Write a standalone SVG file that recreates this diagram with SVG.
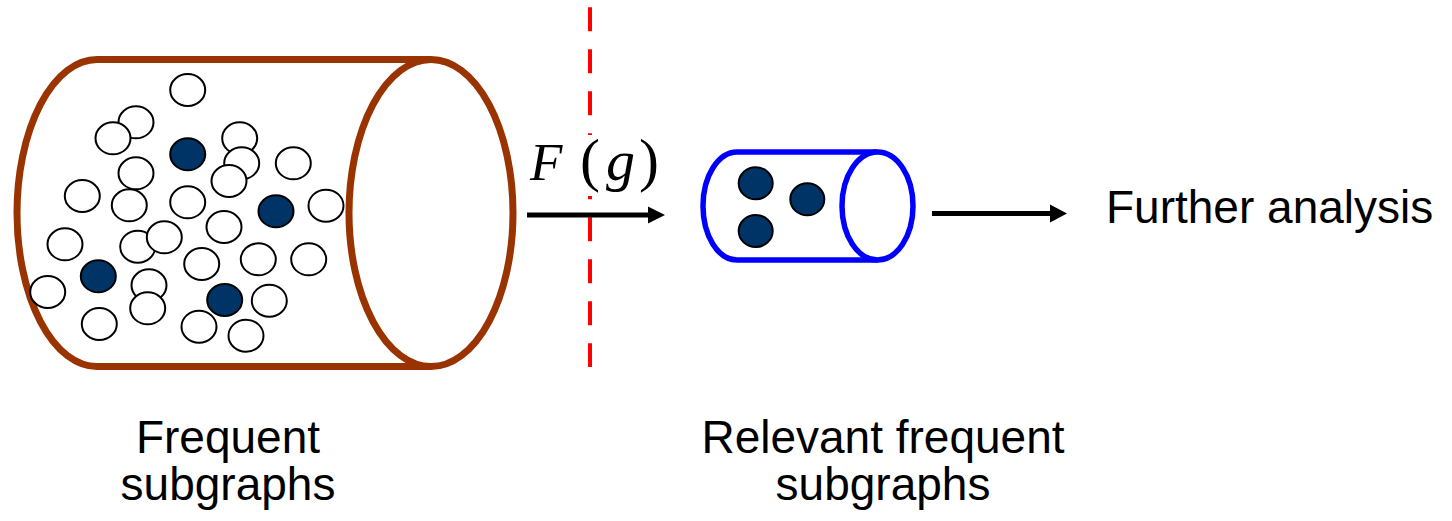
<svg xmlns="http://www.w3.org/2000/svg" width="1452" height="521" viewBox="0 0 1452 521">
<defs>
<style>
.lbl{font-family:"Liberation Sans",Arial,sans-serif;font-size:46px;fill:#000}
.math{font-family:"Liberation Serif","Times New Roman",serif;font-size:53px;fill:#000}
.o{fill:#fff;stroke:#000;stroke-width:2}
.f{fill:#003366;stroke:#000;stroke-width:2}
.arr{stroke:#000;stroke-width:5;fill:none}
</style>
</defs>
<rect width="1452" height="521" fill="#fff"/>
<g id="frequent-cylinder">
<path d="M431 59.5 L97 59.5 A80 153.5 0 0 0 97 366.5 L431 366.5" fill="#fff" stroke="#993300" stroke-width="7"/>
<g id="frequent-nodes">
<ellipse class="o" cx="187.7" cy="90" rx="17.5" ry="16"/>
<ellipse class="o" cx="136" cy="122.3" rx="17.5" ry="16"/>
<ellipse class="o" cx="113" cy="138.3" rx="17.5" ry="16"/>
<ellipse class="f" cx="187.7" cy="154.3" rx="17.5" ry="16"/>
<ellipse class="o" cx="239.7" cy="138.3" rx="17.5" ry="16"/>
<ellipse class="o" cx="241.7" cy="163.3" rx="17.5" ry="16"/>
<ellipse class="o" cx="229" cy="181" rx="17.5" ry="16"/>
<ellipse class="o" cx="293.3" cy="163.3" rx="17.5" ry="16"/>
<ellipse class="o" cx="136" cy="173.3" rx="17.5" ry="16"/>
<ellipse class="o" cx="82.3" cy="196" rx="17.5" ry="16"/>
<ellipse class="o" cx="129.3" cy="205.3" rx="17.5" ry="16"/>
<ellipse class="o" cx="187.7" cy="202.3" rx="17.5" ry="16"/>
<ellipse class="f" cx="276" cy="211.3" rx="17.5" ry="16"/>
<ellipse class="o" cx="326" cy="205.7" rx="17.5" ry="16"/>
<ellipse class="o" cx="224" cy="227" rx="17.5" ry="16"/>
<ellipse class="o" cx="65" cy="244.3" rx="17.5" ry="16"/>
<ellipse class="o" cx="137.7" cy="246.7" rx="17.5" ry="16"/>
<ellipse class="o" cx="164.3" cy="237.3" rx="17.5" ry="16"/>
<ellipse class="o" cx="201.7" cy="264" rx="17.5" ry="16"/>
<ellipse class="o" cx="258.3" cy="259.3" rx="17.5" ry="16"/>
<ellipse class="o" cx="308.7" cy="259.3" rx="17.5" ry="16"/>
<ellipse class="f" cx="98.3" cy="276.3" rx="17.5" ry="16"/>
<ellipse class="o" cx="47.7" cy="292" rx="17.5" ry="16"/>
<ellipse class="o" cx="149" cy="285.3" rx="17.5" ry="16"/>
<ellipse class="o" cx="147.7" cy="308.3" rx="17.5" ry="16"/>
<ellipse class="f" cx="224.7" cy="300" rx="17.5" ry="16"/>
<ellipse class="o" cx="269.3" cy="300.7" rx="17.5" ry="16"/>
<ellipse class="o" cx="99.3" cy="324" rx="17.5" ry="16"/>
<ellipse class="o" cx="199" cy="326.7" rx="17.5" ry="16"/>
<ellipse class="o" cx="246" cy="335.7" rx="17.5" ry="16"/>
</g>
<ellipse cx="431" cy="213" rx="82" ry="153.5" fill="#fff" stroke="#993300" stroke-width="7"/>
</g>
<g id="divider">
<line x1="590" y1="7.3" x2="590" y2="367" stroke="#ff0000" stroke-width="4" stroke-dasharray="24 18"/>
</g>
<g id="relevant-cylinder">
<path d="M877.5 152 L737 152 A34 54 0 0 0 737 260 L877.5 260" fill="#fff" stroke="#0000ff" stroke-width="5.5"/>
<ellipse class="f" cx="755.7" cy="183.3" rx="17" ry="16"/>
<ellipse class="f" cx="807.3" cy="199.3" rx="17" ry="16"/>
<ellipse class="f" cx="755.7" cy="231" rx="17" ry="16"/>
<ellipse cx="877.5" cy="206" rx="35.5" ry="54" fill="#fff" stroke="#0000ff" stroke-width="5.5"/>
</g>
<g id="connectors">
<line class="arr" x1="527" y1="215" x2="650" y2="215"/>
<polygon points="648,206.5 665,215 648,223.5" fill="#000"/>
<line class="arr" x1="932" y1="213.5" x2="1052" y2="213.5"/>
<polygon points="1050,204.5 1067,213.5 1050,222.5" fill="#000"/>
</g>
<g id="filter-label">
<rect x="570" y="135" width="40" height="61" fill="#fff"/>
<text class="math" y="180"><tspan x="530" font-style="italic">F</tspan><tspan x="580" font-size="60">(</tspan><tspan x="606" font-style="italic" font-size="58">g</tspan><tspan x="639" font-size="60">)</tspan></text>
</g>
<g id="labels">
<text class="lbl" x="1106" y="223" font-size="47">Further analysis</text>
<text class="lbl" x="228" y="453" text-anchor="middle">Frequent</text>
<text class="lbl" x="228" y="500" text-anchor="middle">subgraphs</text>
<text class="lbl" x="883" y="453" text-anchor="middle" font-size="47">Relevant frequent</text>
<text class="lbl" x="883" y="500" text-anchor="middle" font-size="47">subgraphs</text>
</g>
</svg>
